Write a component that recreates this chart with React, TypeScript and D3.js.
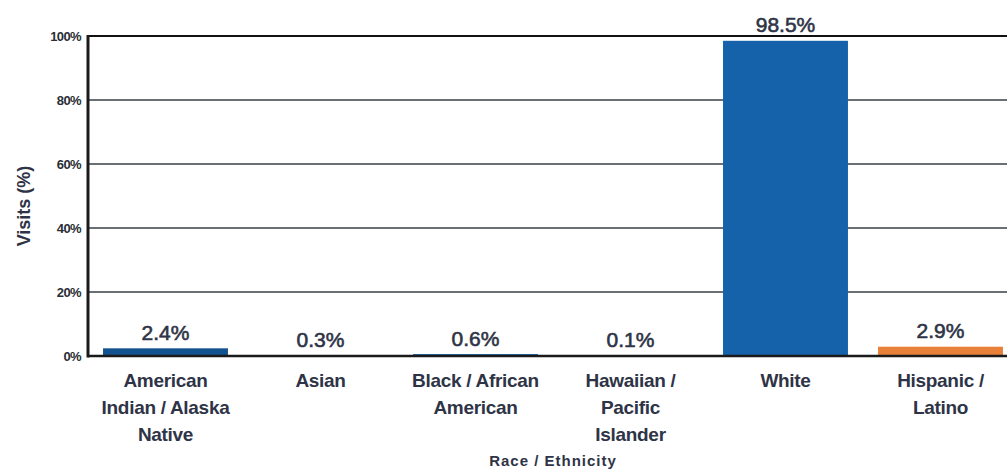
import React, { useEffect, useRef } from 'react';
import * as d3 from 'd3';

// chart data
const categories = ['AIAN', 'Asian', 'Black', 'NHPI', 'White', 'Hispanic'];
const categoryLines = [
    ['American', 'Indian / Alaska', 'Native'],
    ['Asian'],
    ['Black / African', 'American'],
    ['Hawaiian /', 'Pacific', 'Islander'],
    ['White'],
    ['Hispanic /', 'Latino'],
];
const visits = [2.4, 0.3, 0.6, 0.1, 98.5, 2.9];
const barColors = ['#12528f', '#1562ab', '#1562ab', '#1562ab', '#1562ab', '#e8803a'];
const yTicks = [0, 20, 40, 60, 80, 100];

const W = 1007;
const H = 473;
const FONT = '"Liberation Sans", Arial, sans-serif';
const TEXT = '#2e3446';

const App = () => {
    const svgRef = useRef(null);

    const margin = { top: 36, left: 88 };
    const plotRight = 1018; // chart is cropped on the right side
    const plotBottom = 356;

    useEffect(() => {
        const svg = d3.select(svgRef.current);
        svg.selectAll('*').remove();

        const x = d3.scaleBand()
            .domain(categories)
            .range([margin.left, plotRight])
            .paddingInner(0.194)
            .paddingOuter(0.097);

        const y = d3.scaleLinear()
            .domain([0, 100])
            .range([plotBottom, margin.top]);

        // gridlines
        svg.append('g')
            .selectAll('line')
            .data(yTicks.filter(t => t > 0))
            .join('line')
            .attr('x1', margin.left)
            .attr('x2', plotRight)
            .attr('y1', d => y(d))
            .attr('y2', d => y(d))
            .attr('stroke', d => d === 100 ? '#111' : '#3a3f44')
            .attr('stroke-width', d => d === 100 ? 2.2 : 1.4);

        // y axis
        const yAxis = d3.axisLeft(y)
            .tickValues(yTicks)
            .tickSize(0)
            .tickPadding(7)
            .tickFormat(d => `${d}%`);

        const yg = svg.append('g')
            .attr('transform', `translate(${margin.left},0)`)
            .call(yAxis);
        yg.select('.domain').remove();
        yg.selectAll('text')
            .attr('font-family', FONT)
            .attr('font-size', 13)
            .attr('font-weight', 'bold')
            .attr('letter-spacing', -0.6)
            .attr('fill', '#2a2e36');

        // bars
        svg.append('g')
            .selectAll('rect')
            .data(visits)
            .join('rect')
            .attr('x', (d, i) => x(categories[i]))
            .attr('width', x.bandwidth())
            .attr('y', d => y(d))
            .attr('height', d => plotBottom - y(d))
            .attr('fill', (d, i) => barColors[i]);

        // axis lines
        svg.append('line')
            .attr('x1', margin.left).attr('x2', margin.left)
            .attr('y1', margin.top - 1).attr('y2', plotBottom + 1.5)
            .attr('stroke', '#1a1a1a')
            .attr('stroke-width', 3);
        svg.append('line')
            .attr('x1', margin.left).attr('x2', plotRight)
            .attr('y1', plotBottom).attr('y2', plotBottom)
            .attr('stroke', '#1a1a1a')
            .attr('stroke-width', 2.5);

        // value labels
        svg.append('g')
            .selectAll('text')
            .data(visits)
            .join('text')
            .attr('x', (d, i) => x(categories[i]) + x.bandwidth() / 2)
            .attr('y', d => y(d) - 8.5)
            .attr('text-anchor', 'middle')
            .attr('font-family', FONT)
            .attr('font-size', 21)
            .attr('fill', TEXT)
            .attr('stroke', TEXT)
            .attr('stroke-width', 0.6)
            .text(d => `${d}%`);

        // category labels
        const cat = svg.append('g')
            .selectAll('text')
            .data(categoryLines)
            .join('text')
            .attr('x', (d, i) => x(categories[i]) + x.bandwidth() / 2)
            .attr('y', 387)
            .attr('text-anchor', 'middle')
            .attr('font-family', FONT)
            .attr('font-size', 19)
            .attr('font-weight', 'bold')
            .attr('letter-spacing', -0.3)
            .attr('fill', TEXT);
        cat.each(function (lines, i) {
            d3.select(this)
                .selectAll('tspan')
                .data(lines)
                .join('tspan')
                .attr('x', x(categories[i]) + x.bandwidth() / 2)
                .attr('dy', (l, j) => j === 0 ? 0 : 27)
                .text(l => l);
        });

        // axis titles
        svg.append('text')
            .attr('x', (margin.left + plotRight) / 2)
            .attr('y', 466)
            .attr('text-anchor', 'middle')
            .attr('font-family', FONT)
            .attr('font-size', 15)
            .attr('font-weight', 'bold')
            .attr('letter-spacing', 1)
            .attr('fill', TEXT)
            .text('Race / Ethnicity');

        svg.append('text')
            .attr('transform', `translate(30, ${(margin.top + plotBottom) / 2 + 10}) rotate(-90)`)
            .attr('text-anchor', 'middle')
            .attr('font-family', FONT)
            .attr('font-size', 18)
            .attr('font-weight', 'bold')
            .attr('fill', TEXT)
            .text('Visits (%)');
    }, []);

    return (
        <svg
            ref={svgRef}
            width={W}
            height={H}
            style={{ position: 'absolute', left: 0, top: 0, background: '#fff' }}
        />
    );
};

export default App;
